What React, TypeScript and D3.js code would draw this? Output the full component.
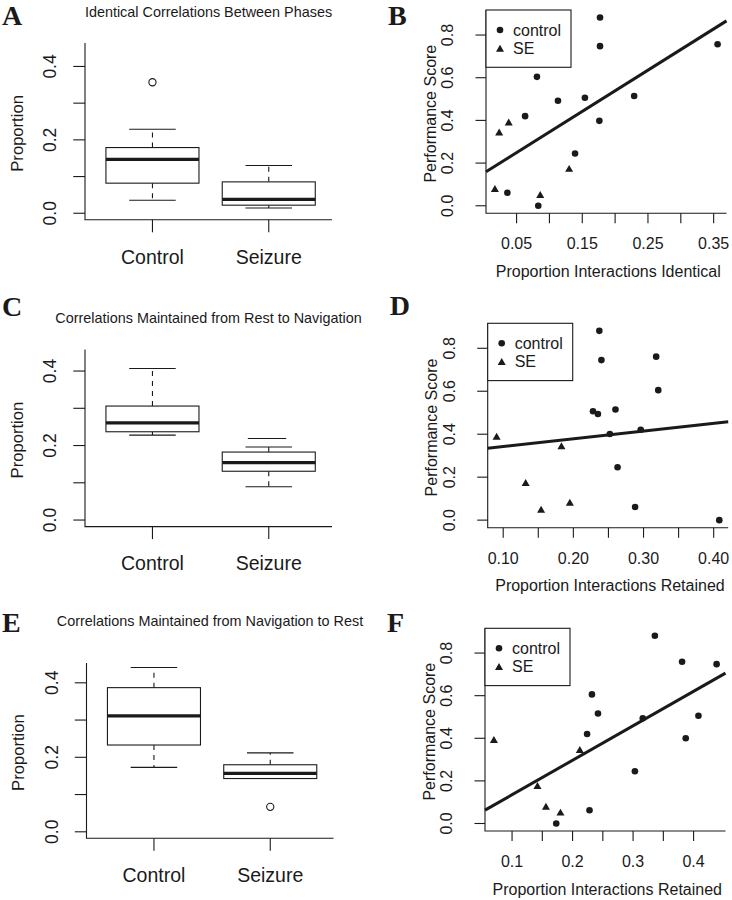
import React from "react";
import * as d3 from "d3";

// ---------- Box plot data (five-number summaries: lower whisker, Q1, median, Q3, upper whisker) ----------
const groups = ["Control", "Seizure"];
const boxYTicks = [0, 0.1, 0.2, 0.3, 0.4];
const boxYTickLabels = ["0.0", "", "0.2", "", "0.4"];
const boxYLabel = "Proportion";

const titleA = "Identical Correlations Between Phases";
const statsAControl = [0.0355, 0.082, 0.147, 0.179, 0.229];
const statsASeizure = [0.0145, 0.022, 0.038, 0.0855, 0.13];
const outliersAControl = [0.357];
const outliersASeizure: number[] = [];

const titleC = "Correlations Maintained from Rest to Navigation";
const statsCControl = [0.228, 0.237, 0.261, 0.306, 0.407];
const statsCSeizure = [0.0895, 0.131, 0.154, 0.1825, 0.196];
const outliersCControl: number[] = [];
const outliersCSeizure: number[] = [];
const extraMarksCSeizure = [0.219];

const titleE = "Correlations Maintained from Navigation to Rest";
const statsEControl = [0.173, 0.233, 0.311, 0.387, 0.441];
const statsESeizure = [0.143, 0.143, 0.157, 0.18, 0.212];
const outliersEControl: number[] = [];
const outliersESeizure = [0.067];

// ---------- Scatter data ----------
const scatterYTicks = [0, 0.2, 0.4, 0.6, 0.8];
const scatterYTickLabels = ["0.0", "0.2", "0.4", "0.6", "0.8"];
const scatterYLabel = "Performance Score";
const legendLabels = ["control", "SE"];

const bControlX = [0.036, 0.083, 0.081, 0.063, 0.113, 0.154, 0.139, 0.176, 0.177, 0.177, 0.229, 0.356];
const bControlY = [0.061, 0.0, 0.604, 0.42, 0.492, 0.506, 0.245, 0.398, 0.748, 0.882, 0.514, 0.757];
const bSEX = [0.017, 0.0235, 0.038, 0.086, 0.13];
const bSEY = [0.081, 0.345, 0.392, 0.053, 0.175];
const bXTicks = [0.05, 0.1, 0.15, 0.2, 0.25, 0.3, 0.35];
const bXTickLabels = ["0.05", "", "0.15", "", "0.25", "", "0.35"];
const bXLabel = "Proportion Interactions Identical";
const bFit = [0.153, 1.93]; // intercept, slope

const dControlX = [0.237, 0.24, 0.318, 0.321, 0.228, 0.235, 0.26, 0.252, 0.296, 0.263, 0.288, 0.408];
const dControlY = [0.881, 0.745, 0.761, 0.605, 0.507, 0.494, 0.515, 0.401, 0.421, 0.246, 0.061, 0.0];
const dSEX = [0.0906, 0.132, 0.154, 0.183, 0.195];
const dSEY = [0.39, 0.175, 0.05, 0.346, 0.083];
const dXTicks = [0.1, 0.15, 0.2, 0.25, 0.3, 0.35, 0.4];
const dXTickLabels = ["0.10", "", "0.20", "", "0.30", "", "0.40"];
const dXLabel = "Proportion Interactions Retained";
const dFit = [0.307, 0.359];

const fControlX = [0.336, 0.381, 0.438, 0.232, 0.242, 0.224, 0.316, 0.408, 0.387, 0.303, 0.228, 0.173];
const fControlY = [0.881, 0.759, 0.748, 0.606, 0.516, 0.42, 0.494, 0.506, 0.4, 0.245, 0.062, 0.0];
const fSEX = [0.07, 0.212, 0.142, 0.156, 0.18];
const fSEY = [0.394, 0.347, 0.178, 0.081, 0.053];
const fXTicks = [0.1, 0.15, 0.2, 0.25, 0.3, 0.35, 0.4];
const fXTickLabels = ["0.1", "", "0.2", "", "0.3", "", "0.4"];
const fXLabel = "Proportion Interactions Retained";
const fFit = [-0.027, 1.619];

const SANS = "'Liberation Sans', Arial, Helvetica, sans-serif";
const SERIF = "'Liberation Serif', 'Times New Roman', serif";
const INK = "#1a1a1a";

function ext4(vals: number[]): [number, number] {
  const [lo, hi] = d3.extent(vals) as [number, number];
  const pad = (hi - lo) * 0.04;
  return [lo - pad, hi + pad];
}

type BoxProps = {
  letter: string;
  letterY: number;
  title: string;
  titleY: number;
  left: number;
  bottom: number;
  ylim: number;
  ppu: number;
  stats: number[][];
  outliers: number[][];
  extras?: number[][];
};

function BoxPanel(p: BoxProps) {
  const unitW = 116.3;
  const x = d3.scaleLinear().domain([0.42, 2.58]).range([p.left, p.left + 2.16 * unitW]);
  const height = p.ylim * 1.08 * p.ppu;
  const top = p.bottom - height;
  const y = d3.scaleLinear().domain([-0.04 * p.ylim, 1.04 * p.ylim]).range([p.bottom, top]);
  const axisRight = p.left + 247;
  const boxHalf = 0.4;
  const capHalf = 0.2;
  return (
    <g>
      <text x={2} y={p.letterY} fontFamily={SERIF} fontWeight="bold" fontSize={28} fill={INK}>
        {p.letter}
      </text>
      <text x={(p.left + axisRight) / 2} y={p.titleY} fontFamily={SANS} fontSize={14.4} textAnchor="middle" dominantBaseline="central" fill={INK}>
        {p.title}
      </text>
      {/* axes (bty = "l") */}
      <path d={`M${p.left},${top}V${p.bottom}H${axisRight}`} fill="none" stroke={INK} strokeWidth={1.1} />
      {boxYTicks.map((t, i) => (
        <g key={i}>
          <line x1={p.left} x2={p.left - 11.7} y1={y(t)} y2={y(t)} stroke={INK} strokeWidth={1.1} />
          {boxYTickLabels[i] && (
            <text transform={`translate(${p.left - 35},${y(t)}) rotate(-90)`} fontFamily={SANS} fontSize={17.5} textAnchor="middle" dominantBaseline="central" fill={INK}>
              {boxYTickLabels[i]}
            </text>
          )}
        </g>
      ))}
      <text transform={`translate(${p.left - 68},${(top + p.bottom) / 2 + 2}) rotate(-90)`} fontFamily={SANS} fontSize={16.6} textAnchor="middle" dominantBaseline="central" fill={INK}>
        {boxYLabel}
      </text>
      {groups.map((g, i) => {
        const cx = x(i + 1);
        const s = p.stats[i];
        return (
          <g key={g}>
            <line x1={cx} x2={cx} y1={p.bottom} y2={p.bottom + 12.5} stroke={INK} strokeWidth={1.1} />
            <text x={cx} y={p.bottom + 36.7} fontFamily={SANS} fontSize={19.5} textAnchor="middle" dominantBaseline="central" fill={INK}>
              {g}
            </text>
            {/* whiskers */}
            <line x1={cx} x2={cx} y1={y(s[3])} y2={y(s[4])} stroke={INK} strokeWidth={1.1} strokeDasharray="5,5" />
            <line x1={cx} x2={cx} y1={y(s[1])} y2={y(s[0])} stroke={INK} strokeWidth={1.1} strokeDasharray="5,5" />
            <line x1={x(i + 1 - capHalf)} x2={x(i + 1 + capHalf)} y1={y(s[4])} y2={y(s[4])} stroke={INK} strokeWidth={1.1} />
            <line x1={x(i + 1 - capHalf)} x2={x(i + 1 + capHalf)} y1={y(s[0])} y2={y(s[0])} stroke={INK} strokeWidth={1.1} />
            {/* box */}
            <rect x={x(i + 1 - boxHalf)} y={y(s[3])} width={x(i + 1 + boxHalf) - x(i + 1 - boxHalf)} height={y(s[1]) - y(s[3])} fill="white" stroke={INK} strokeWidth={1.1} />
            <line x1={x(i + 1 - boxHalf)} x2={x(i + 1 + boxHalf)} y1={y(s[2])} y2={y(s[2])} stroke={INK} strokeWidth={3.2} />
            {p.outliers[i].map((o, j) => (
              <circle key={j} cx={cx} cy={y(o)} r={3.6} fill="none" stroke={INK} strokeWidth={1.1} />
            ))}
            {(p.extras ? p.extras[i] : []).map((o, j) => (
              <line key={"e" + j} x1={x(i + 1 - 0.18)} x2={x(i + 1 + 0.15)} y1={y(o)} y2={y(o)} stroke={INK} strokeWidth={1.1} />
            ))}
          </g>
        );
      })}
    </g>
  );
}

type ScatterProps = {
  letter: string;
  letterY: number;
  left: number;
  top: number;
  bottom: number;
  cx: number[];
  cy: number[];
  sx: number[];
  sy: number[];
  xTicks: number[];
  xTickLabels: string[];
  xLabel: string;
  fit: number[];
};

function ScatterPanel(p: ScatterProps) {
  const width = 240.5;
  const x = d3.scaleLinear().domain(ext4([...p.cx, ...p.sx])).range([p.left, p.left + width]);
  const y = d3.scaleLinear().domain(ext4([...p.cy, ...p.sy])).range([p.bottom, p.top]);
  const [x0, x1] = x.domain();
  const fitLine = d3.line()([
    [x(x0), y(p.fit[0] + p.fit[1] * x0)],
    [x(x1), y(p.fit[0] + p.fit[1] * x1)],
  ]) as string;
  const circlePath = d3.symbol(d3.symbolCircle, Math.PI * 3.3 * 3.3)() as string;
  const triPath = d3.symbol(d3.symbolTriangle, 28)() as string;
  const triOff = 1.1;
  const right = p.left + width;
  return (
    <g>
      <text x={p.left - 98} y={p.letterY} fontFamily={SERIF} fontWeight="bold" fontSize={28} fill={INK}>
        {p.letter}
      </text>
      <path d={`M${p.left},${p.top}V${p.bottom}H${right}`} fill="none" stroke={INK} strokeWidth={1.1} />
      {scatterYTicks.map((t, i) => (
        <g key={i}>
          <line x1={p.left} x2={p.left - 10.5} y1={y(t)} y2={y(t)} stroke={INK} strokeWidth={1.1} />
          <text transform={`translate(${p.left - 38.5},${y(t)}) rotate(-90)`} fontFamily={SANS} fontSize={16} textAnchor="middle" dominantBaseline="central" fill={INK}>
            {scatterYTickLabels[i]}
          </text>
        </g>
      ))}
      <text transform={`translate(${p.left - 56},${(p.top + p.bottom) / 2 + 2}) rotate(-90)`} fontFamily={SANS} fontSize={16} textAnchor="middle" dominantBaseline="central" fill={INK}>
        {scatterYLabel}
      </text>
      {p.xTicks.map((t, i) => (
        <g key={i}>
          <line x1={x(t)} x2={x(t)} y1={p.bottom} y2={p.bottom + 10} stroke={INK} strokeWidth={1.1} />
          {p.xTickLabels[i] && (
            <text x={x(t)} y={p.bottom + 30.3} fontFamily={SANS} fontSize={16} textAnchor="middle" dominantBaseline="central" fill={INK}>
              {p.xTickLabels[i]}
            </text>
          )}
        </g>
      ))}
      <text x={(p.left + right) / 2 + 2} y={p.bottom + 58} fontFamily={SANS} fontSize={16} textAnchor="middle" dominantBaseline="central" fill={INK}>
        {p.xLabel}
      </text>
      {/* legend */}
      <rect x={p.left} y={p.top} width={85} height={57.3} fill="white" stroke={INK} strokeWidth={1.1} />
      <path d={circlePath} transform={`translate(${p.left + 14},${p.top + 20})`} fill={INK} />
      <text x={p.left + 27} y={p.top + 20} fontFamily={SANS} fontSize={16} dominantBaseline="central" fill={INK}>
        {legendLabels[0]}
      </text>
      <path d={triPath} transform={`translate(${p.left + 14},${p.top + 38.3 + triOff})`} fill={INK} />
      <text x={p.left + 27} y={p.top + 38.3} fontFamily={SANS} fontSize={16} dominantBaseline="central" fill={INK}>
        {legendLabels[1]}
      </text>
      {/* points */}
      {p.cx.map((v, i) => (
        <path key={"c" + i} d={circlePath} transform={`translate(${x(v)},${y(p.cy[i])})`} fill={INK} />
      ))}
      {p.sx.map((v, i) => (
        <path key={"s" + i} d={triPath} transform={`translate(${x(v)},${y(p.sy[i]) + triOff})`} fill={INK} />
      ))}
      <path d={fitLine} stroke={INK} strokeWidth={3} fill="none" />
    </g>
  );
}

export default function App() {
  return (
    <svg width={732} height={900} viewBox="0 0 732 900" style={{ position: "absolute", left: 0, top: 0, background: "white" }}>
      <rect x={0} y={0} width={732} height={900} fill="white" />
      <BoxPanel
        letter="A"
        letterY={24.5}
        title={titleA}
        titleY={12}
        left={85}
        bottom={219.8}
        ylim={0.446}
        ppu={367}
        stats={[statsAControl, statsASeizure]}
        outliers={[outliersAControl, outliersASeizure]}
      />
      <BoxPanel
        letter="C"
        letterY={316}
        title={titleC}
        titleY={318.3}
        left={85}
        bottom={526.6}
        ylim={0.44}
        ppu={372.5}
        stats={[statsCControl, statsCSeizure]}
        outliers={[outliersCControl, outliersCSeizure]}
        extras={[[], extraMarksCSeizure]}
      />
      <BoxPanel
        letter="E"
        letterY={632}
        title={titleE}
        titleY={620.7}
        left={86.5}
        bottom={838.3}
        ylim={0.436}
        ppu={372.5}
        stats={[statsEControl, statsESeizure]}
        outliers={[outliersEControl, outliersESeizure]}
      />
      <ScatterPanel letter="B" letterY={24.5} left={486} top={10} bottom={213.3} cx={bControlX} cy={bControlY} sx={bSEX} sy={bSEY} xTicks={bXTicks} xTickLabels={bXTickLabels} xLabel={bXLabel} fit={bFit} />
      <ScatterPanel letter="D" letterY={315} left={487.7} top={323.3} bottom={527.7} cx={dControlX} cy={dControlY} sx={dSEX} sy={dSEY} xTicks={dXTicks} xTickLabels={dXTickLabels} xLabel={dXLabel} fit={dFit} />
      <ScatterPanel letter="F" letterY={632} left={485} top={628.3} bottom={831} cx={fControlX} cy={fControlY} sx={fSEX} sy={fSEY} xTicks={fXTicks} xTickLabels={fXTickLabels} xLabel={fXLabel} fit={fFit} />
    </svg>
  );
}
